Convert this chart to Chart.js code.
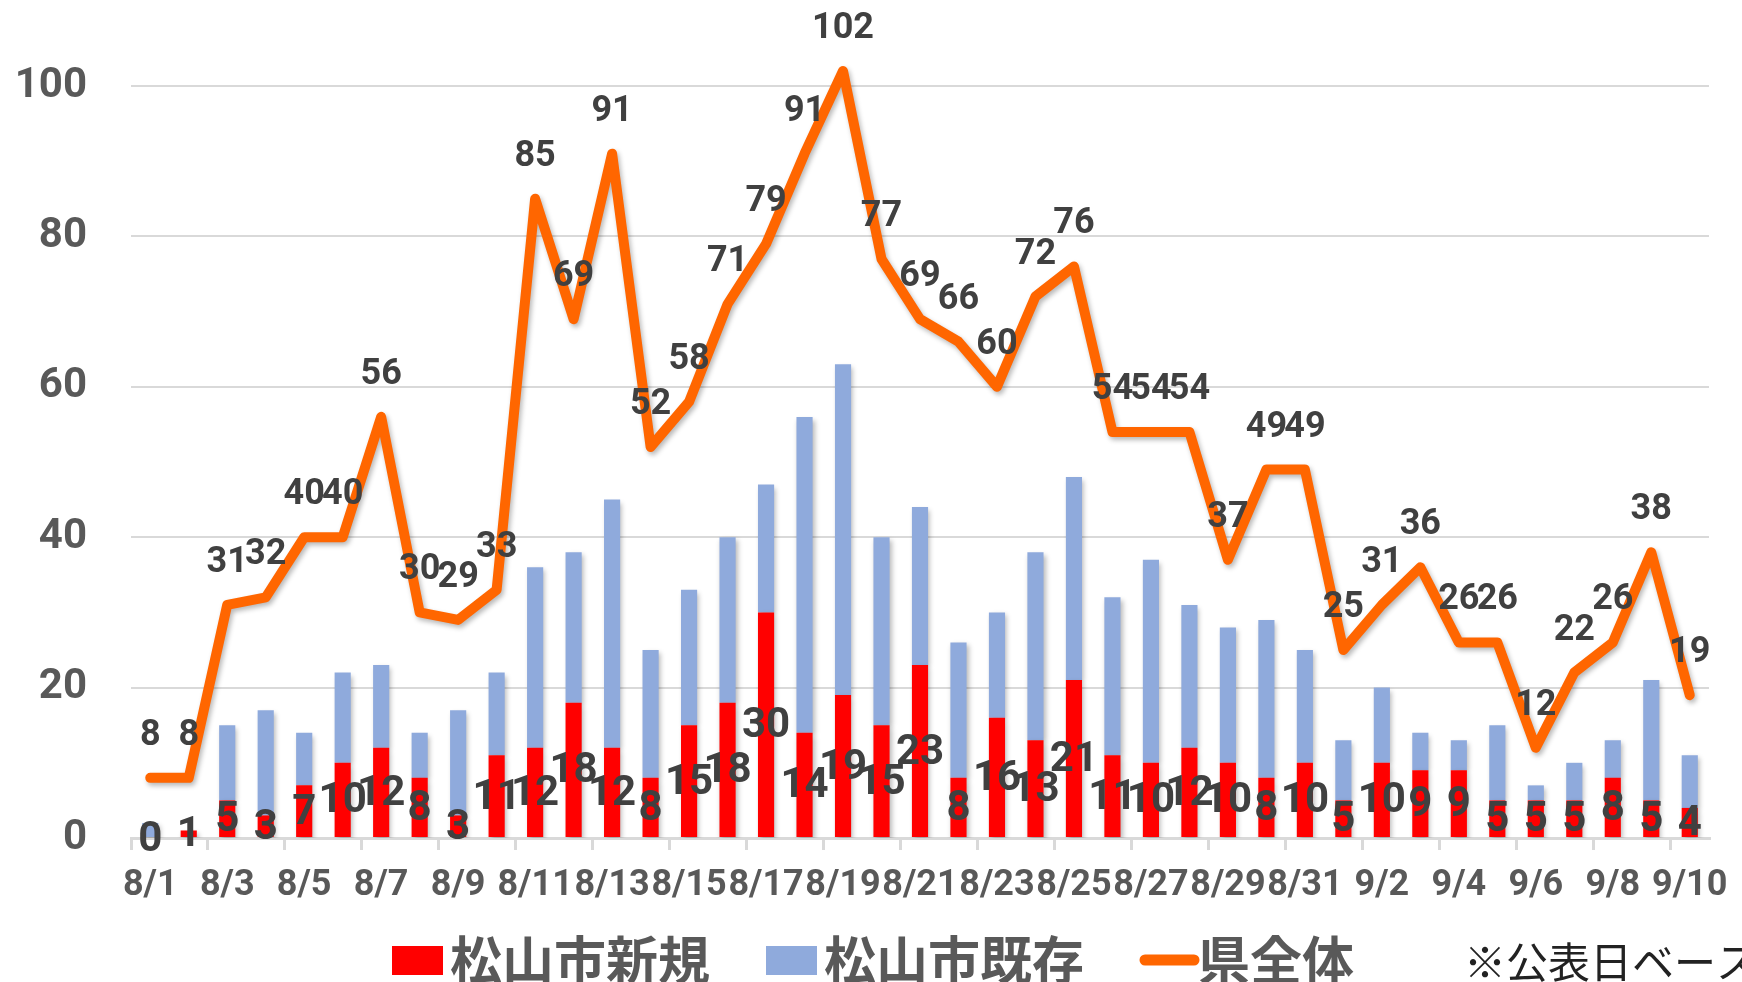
<!DOCTYPE html>
<html>
<head>
<meta charset="utf-8">
<script src="https://cdn.jsdelivr.net/npm/chart.js@4/dist/chart.umd.min.js"></script>
<style>
  body { margin: 0; background: #fff; overflow: hidden; }
  #wrap { width: 1742px; height: 982px; position: relative; }
</style>
</head>
<body>
<div id="wrap"><canvas id="chart"></canvas></div>
<script>
const categories = [
  "8/1", "8/2", "8/3", "8/4", "8/5", "8/6", "8/7", "8/8", "8/9", "8/10",
  "8/11", "8/12", "8/13", "8/14", "8/15", "8/16", "8/17", "8/18", "8/19", "8/20",
  "8/21", "8/22", "8/23", "8/24", "8/25", "8/26", "8/27", "8/28", "8/29", "8/30", "8/31",
  "9/1", "9/2", "9/3", "9/4", "9/5", "9/6", "9/7", "9/8", "9/9", "9/10"
];
// 松山市新規
const newCases = [
  0, 1, 5, 3, 7, 10, 12, 8, 3, 11,
  12, 18, 12, 8, 15, 18, 30, 14, 19, 15,
  23, 8, 16, 13, 21, 11, 10, 12, 10, 8, 10,
  5, 10, 9, 9, 5, 5, 5, 8, 5, 4
];
// 松山市既存
const existingCases = [
  2, 0, 10, 14, 7, 12, 11, 6, 14, 11,
  24, 20, 33, 17, 18, 22, 17, 42, 44, 25,
  21, 18, 14, 25, 27, 21, 27, 19, 18, 21, 15,
  8, 10, 5, 4, 10, 2, 5, 5, 16, 7
];
// 県全体
const prefTotal = [
  8, 8, 31, 32, 40, 40, 56, 30, 29, 33,
  85, 69, 91, 52, 58, 71, 79, 91, 102, 77,
  69, 66, 60, 72, 76, 54, 54, 54, 37, 49, 49,
  25, 31, 36, 26, 26, 12, 22, 26, 38, 19
];
const yTicks = [0, 20, 40, 60, 80, 100];
const seriesNames = ["松山市新規", "松山市既存", "県全体"];
const note = "※公表日ベース";

const numFont = "Roboto, 'Open Sans', sans-serif";
const jpFont = "'Noto Sans CJK JP', sans-serif";

// soft shadow like the office chart
const shadowPlugin = {
  id: "shadow",
  beforeDatasetDraw(chart) {
    const ctx = chart.ctx;
    ctx.save();
    ctx.shadowColor = "rgba(0,0,0,0.28)";
    ctx.shadowBlur = 5;
    ctx.shadowOffsetX = 2;
    ctx.shadowOffsetY = 3;
  },
  afterDatasetDraw(chart) {
    chart.ctx.restore();
  }
};

const labelPlugin = {
  id: "valueLabels",
  afterDatasetsDraw(chart) {
    const ctx = chart.ctx;
    ctx.save();
    ctx.fillStyle = "#404040";
    ctx.textAlign = "center";
    ctx.textBaseline = "middle";

    ctx.font = "bold 42px " + numFont;
    chart.getDatasetMeta(0).data.forEach((bar, i) => {
      const p = bar.getProps(["x", "y", "base"], true);
      ctx.fillText(String(newCases[i]), p.x, (p.y + p.base) / 2 + 2);
    });

    ctx.font = "bold 36px " + numFont;
    chart.getDatasetMeta(2).data.forEach((pt, i) => {
      ctx.fillText(String(prefTotal[i]), pt.x, pt.y - 42);
    });
    ctx.restore();
  }
};

// legend row along the bottom + note
const legendPlugin = {
  id: "bottomLegend",
  afterDraw(chart) {
    const ctx = chart.ctx;
    const ds = chart.data.datasets;
    const cy = 960;
    let x = 392;
    ctx.save();
    ctx.textBaseline = "middle";
    ctx.textAlign = "left";
    ctx.font = "bold 52px " + jpFont;
    ds.forEach((d) => {
      if (d.type === "line") {
        ctx.strokeStyle = d.borderColor;
        ctx.lineWidth = 11;
        ctx.lineCap = "round";
        ctx.beginPath();
        ctx.moveTo(x + 5, cy);
        ctx.lineTo(x + 54, cy);
        ctx.stroke();
      } else {
        ctx.fillStyle = d.backgroundColor;
        ctx.fillRect(x, cy - 14, 51, 29);
      }
      x += 58;
      ctx.fillStyle = "#595959";
      ctx.fillText(d.label, x, cy);
      x += ctx.measureText(d.label).width + 56;
    });
    ctx.font = "42px " + jpFont;
    ctx.fillStyle = "#222";
    ctx.fillText(note, 1464, cy + 2);
    ctx.restore();
  }
};

new Chart(document.getElementById("chart"), {
  data: {
    labels: categories,
    datasets: [
      {
        type: "bar",
        label: seriesNames[0],
        data: newCases,
        backgroundColor: "#FF0000",
        stack: "city",
        order: 1,
        categoryPercentage: 1,
        barPercentage: 0.42
      },
      {
        type: "bar",
        label: seriesNames[1],
        data: existingCases,
        backgroundColor: "#8FAADC",
        stack: "city",
        order: 2,
        categoryPercentage: 1,
        barPercentage: 0.42
      },
      {
        type: "line",
        label: seriesNames[2],
        data: prefTotal,
        borderColor: "#FF6600",
        backgroundColor: "#FF6600",
        borderWidth: 10,
        borderJoinStyle: "round",
        borderCapStyle: "round",
        pointRadius: 0,
        tension: 0,
        stack: "pref",
        order: 0,
        clip: false
      }
    ]
  },
  options: {
    responsive: true,
    maintainAspectRatio: false,
    animation: false,
    layout: { padding: { top: 86, right: 33, bottom: 84, left: 0 } },
    plugins: {
      legend: { display: false },
      tooltip: { enabled: false }
    },
    scales: {
      x: {
        stacked: true,
        offset: true,
        grid: {
          offset: true,
          drawOnChartArea: false,
          tickLength: 12,
          lineWidth: 3,
          color: (c) => (c.index % 2 === 0 ? "#D9D9D9" : "rgba(0,0,0,0)")
        },
        border: { display: true, color: "#D9D9D9", width: 3 },
        ticks: {
          autoSkip: false,
          maxRotation: 0,
          minRotation: 0,
          padding: 14,
          color: "#595959",
          font: { family: numFont, weight: "bold", size: 36 },
          callback(v, i) { return i % 2 === 0 ? this.getLabelForValue(v) : ""; }
        },
        afterFit(scale) { scale.height = 60; }
      },
      y: {
        stacked: true,
        min: yTicks[0],
        max: yTicks[yTicks.length - 1],
        grid: { color: "#D9D9D9", lineWidth: 2, drawTicks: false },
        border: { display: false },
        ticks: {
          stepSize: yTicks[1] - yTicks[0],
          padding: 44,
          color: "#595959",
          font: { family: numFont, weight: "bold", size: 42 }
        },
        afterFit(scale) { scale.width = 131; }
      }
    }
  },
  plugins: [shadowPlugin, labelPlugin, legendPlugin]
});
</script>
</body>
</html>
